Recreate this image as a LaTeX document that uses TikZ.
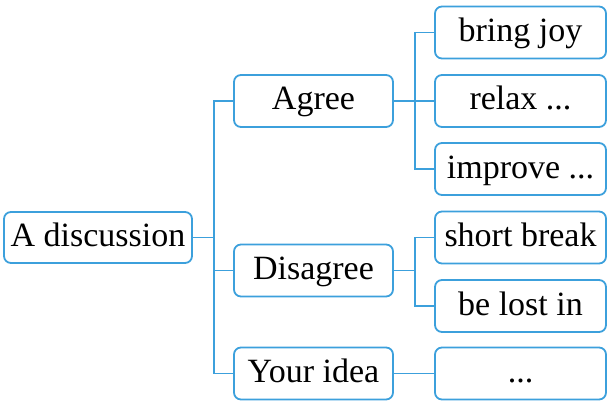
\documentclass[tikz,border=0pt]{standalone}
\usepackage{fontspec}
\setmainfont{Liberation Serif}
\usetikzlibrary{positioning}
\definecolor{mapblue}{RGB}{60,160,220}

\begin{document}
\begin{tikzpicture}[x=1pt,y=-1pt]
		\useasboundingbox (0,0) rectangle (611,404);
		\begin{scope}[every node/.style={draw=mapblue, line width=1.8pt, rounded corners=7pt, font=\fontsize{34}{40}\selectfont, inner sep=0pt, text height=24pt, text depth=6pt},
			topic/.style={minimum width=188pt, minimum height=51pt},
			side/.style={minimum width=159pt, minimum height=52pt},
			idea/.style={minimum width=171pt, minimum height=52pt},
			link/.style={draw=mapblue, line width=1.8pt}]
			\node [topic] (disc) at (98,237.5) {A discussion};
			% middle column
			\node [side] (agree) at (313.5,101) {Agree};
			\node [side] (disagree) at (313.5,270.5) {Disagree};
			\node [side] (yours) at (313.5,373.5) {Your idea};
			% right column
			\node [idea] (joy) at (520.5,32.5) {bring joy};
			\node [idea] (relax) at (520.5,101) {relax ...};
			\node [idea] (improve) at (520.5,169) {improve ...};
			\node [idea] (break) at (520.5,237.5) {short break};
			\node [idea] (lost) at (520.5,306) {be lost in};
			\node [idea] (dots) at (520.5,373.5) {...};
			% connectors
			\draw [link] (disc.east) -- ++(21,0) coordinate (j1);
			\draw [link] (j1) |- (agree.west);
			\draw [link] (j1) |- (disagree.west);
			\draw [link] (j1) |- (yours.west);
			\draw [link] (agree.east) -- ++(21,0) coordinate (j2);
			\draw [link] (j2) |- (joy.west);
			\draw [link] (j2) -- (relax.west);
			\draw [link] (j2) |- (improve.west);
			\draw [link] (disagree.east) -- ++(21,0) coordinate (j3);
			\draw [link] (j3) |- (break.west);
			\draw [link] (j3) |- (lost.west);
			\draw [link] (yours.east) -- (dots.west);
		\end{scope}
	\end{tikzpicture}
\end{document}
